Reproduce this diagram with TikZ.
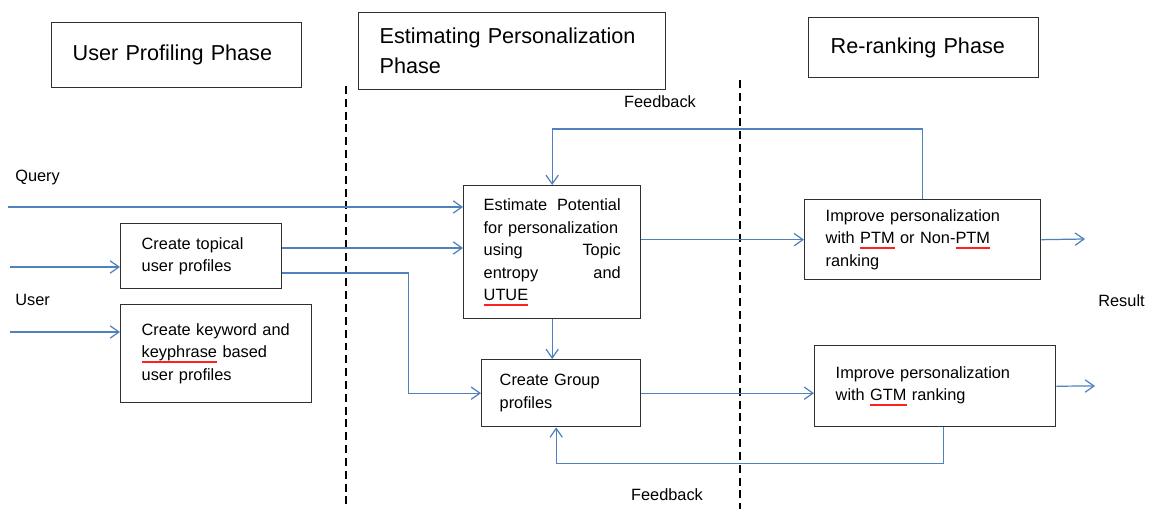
\documentclass[tikz,border=0pt]{standalone}
\usepackage{fontspec}
\setmainfont{Liberation Sans}
\usetikzlibrary{arrows.meta, positioning, calc}
\definecolor{Link}{HTML}{4F81BD}
\definecolor{Edge}{HTML}{303030}
\definecolor{Squiggle}{HTML}{FF2020}
\newsavebox\spellbox
\newcommand{\spellmark}[1]{\leavevmode\sbox\spellbox{#1}%
  \textcolor{Squiggle}{\rlap{\rule[-2.8pt]{\wd\spellbox}{0.8pt}}}\usebox\spellbox}
\tikzset{
  blk/.style={draw=Edge, line width=0.8pt, anchor=north west, align=left,
              inner xsep=0.42cm, inner ysep=0pt, font=\fontsize{9.3}{12.8}\selectfont},
  phase/.style={blk, font=\fontsize{12.3}{17}\selectfont},
  arr/.style={-{Straight Barb[length=5pt,width=7pt]}, Link, line width=0.7pt},
  lbl/.style={anchor=west, inner sep=0pt, font=\fontsize{9.3}{11}\selectfont},
  divider/.style={line width=1.1pt, dash pattern=on 4.5pt off 2.8pt}
}

\begin{document}
\begin{tikzpicture}[x=0.02cm, y=-0.02cm]
  \useasboundingbox (0,0) rectangle (1156,509);
  \node[phase, text width=4.16cm, minimum height=1.3cm] (UP) at (51,22) {User Profiling Phase};
  \node[phase, text width=5.3cm, minimum height=1.54cm] (EP) at (358,12)
    {\mbox{Estimating Personalization}\\Phase};
  \node[phase, inner xsep=0.44cm, text width=3.72cm, minimum height=1.2cm] (RP) at (808,17)
    {Re-ranking Phase};
  \draw[divider] (346,86) -- (346,509);
  \draw[divider] (740,80) -- (740,509);

  \node[blk, text width=2.38cm, minimum height=1.3cm] (T) at (120,223)
    {Create topical\\user profiles};
  \node[blk, text width=2.98cm, minimum height=1.96cm] (K) at (120,304)
    {Create keyword and\\\spellmark{keyphrase} based\\user profiles};
  \node[blk, inner xsep=0.4cm, text width=2.74cm, minimum height=2.66cm] (EST) at (463,185)
    {Estimate\hfill Potential\\for personalization\\using\hfill Topic\\entropy\hfill and\\\spellmark{UTUE}};
  \node[blk, inner xsep=0.36cm, text width=2.46cm, minimum height=1.34cm] (G) at (481,359)
    {Create Group\\profiles};
  \node[blk, text width=3.88cm, minimum height=1.6cm] (PTM) at (804,199)
    {Improve personalization\\with \spellmark{PTM} or Non-\spellmark{PTM}\\ranking};
  \node[blk, text width=3.98cm, minimum height=1.62cm] (GTM) at (814,345)
    {Improve personalization\\with \spellmark{GTM} ranking};

  \node[lbl] (Q) at (15,177) {Query};
  \node[lbl] (U) at (15,300) {User};
  \node[lbl] (R) at (1098,301) {Result};
  \node[lbl, anchor=center] (F1) at (660,102) {Feedback};
  \node[lbl, anchor=center] (F2) at (667,495) {Feedback};

  \coordinate (qin) at (8,207);
  \coordinate (uin1) at (10,267);
  \coordinate (uin2) at (10,332);
  \coordinate (out1) at (1085,239);
  \coordinate (out2) at (1095,386);
  \coordinate (t1) at ($(T.north east)+(0,25)$);
  \coordinate (t2) at ($(T.north east)+(0,50)$);

  \draw[arr] (qin) -- (qin -| EST.west);
  \draw[arr] (uin1) -- (uin1 -| T.west);
  \draw[arr] (uin2) -- (uin2 -| K.west);
  \draw[arr] (t1) -- (t1 -| EST.west);
  \draw[arr] (t2) -- ++(126,0) |- (G.west);
  \draw[arr] (EST.south) -- (EST.south |- G.north);
  \draw[arr] (EST.east |- PTM.west) -- (PTM.west);
  \draw[arr] (PTM.east) -- (out1);
  \draw[arr] (PTM.north) -- ++(0,-70) -| (EST.north);
  \draw[arr] (G.east) -- (G.east -| GTM.west);
  \draw[arr] (GTM.east) -- (out2);
  \draw[arr] ($(GTM.south)+(8,0)$) -- ++(0,36) -| ($(G.south)+(-5,0)$);
\end{tikzpicture}
\end{document}
